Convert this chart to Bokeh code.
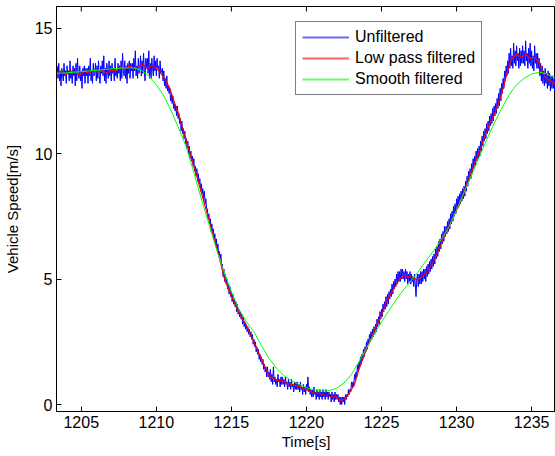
import math
from bokeh.plotting import figure
from bokeh.models import Range1d, FixedTicker, Legend, LegendItem
from bokeh.embed import file_html
from bokeh.resources import INLINE

# ---- data ----
x_ticks = [1205, 1210, 1215, 1220, 1225, 1230, 1235]
y_ticks = [0, 5, 10, 15]

# Unfiltered signal: sampled every 0.05 s starting at 1203.4 s (one row per second)
raw_t0 = 1203.4
raw_dt = 0.05
raw_rows = [
    [13.5, 13.0, 13.6, 12.9, 13.3, 12.7, 13.4, 13.2, 12.9, 13.6, 13.1, 13.3, 12.8, 13.5, 13.2, 13.3, 12.9, 13.7, 13.0, 13.2],
    [12.8, 13.5, 13.1, 13.4, 12.7, 13.6, 12.9, 13.8, 13.2, 13.0, 13.5, 12.9, 13.3, 12.6, 13.4, 13.1, 13.5, 12.8, 13.4, 13.1],
    [13.4, 12.8, 13.5, 13.1, 13.8, 12.9, 13.3, 12.8, 13.6, 13.1, 13.2, 13.6, 12.9, 13.5, 13.0, 13.7, 13.1, 12.8, 13.5, 13.2],
    [13.7, 13.1, 13.9, 12.9, 13.4, 12.8, 13.6, 13.3, 13.0, 13.7, 13.1, 13.5, 12.9, 13.6, 13.2, 13.4, 12.9, 13.8, 13.1, 13.3],
    [13.0, 13.6, 13.2, 13.5, 12.9, 13.7, 13.0, 14.0, 13.3, 13.1, 13.7, 13.0, 13.5, 12.8, 13.6, 13.2, 13.7, 13.0, 13.6, 13.3],
    [13.6, 13.0, 13.8, 13.3, 14.1, 13.1, 13.5, 13.0, 13.8, 13.2, 13.4, 13.9, 13.1, 13.7, 13.2, 14.0, 13.3, 12.9, 13.8, 13.4],
    [13.8, 13.2, 14.1, 13.0, 13.6, 13.0, 13.8, 13.4, 13.1, 13.9, 13.3, 13.7, 13.1, 13.8, 13.4, 13.5, 13.0, 13.7, 13.2, 13.3],
    [13.4, 12.9, 13.3, 12.7, 13.0, 12.6, 13.1, 12.5, 12.7, 12.4, 12.6, 12.1, 12.4, 12.0, 12.3, 11.8, 12.0, 11.7, 11.9, 11.5],
    [11.9, 11.4, 11.6, 11.2, 11.4, 10.9, 11.3, 10.8, 11.0, 10.6, 10.9, 10.4, 10.6, 10.2, 10.5, 10.0, 10.3, 9.8, 10.1, 9.7],
    [9.9, 9.5, 9.8, 9.3, 9.5, 9.1, 9.4, 8.9, 9.2, 8.8, 9.0, 8.5, 8.8, 8.4, 8.6, 8.2, 8.5, 8.0, 8.2, 7.8],
    [7.8, 7.4, 7.6, 7.2, 7.4, 6.9, 7.2, 6.8, 7.0, 6.6, 6.8, 6.3, 6.6, 6.2, 6.4, 6.0, 6.1, 5.8, 6.0, 5.5],
    [5.6, 5.1, 5.4, 4.9, 5.2, 4.8, 5.0, 4.6, 4.8, 4.4, 4.7, 4.3, 4.5, 4.1, 4.4, 4.0, 4.2, 3.9, 4.1, 3.7],
    [4.0, 3.6, 3.8, 3.5, 3.7, 3.4, 3.6, 3.2, 3.5, 3.1, 3.3, 3.0, 3.2, 2.9, 3.1, 2.8, 3.0, 2.7, 2.9, 2.6],
    [2.8, 2.4, 2.6, 2.3, 2.5, 2.1, 2.3, 2.0, 2.2, 1.8, 2.0, 1.7, 1.9, 1.6, 1.8, 1.4, 1.6, 1.3, 1.5, 1.1],
    [1.5, 1.1, 1.3, 1.0, 1.4, 0.9, 1.2, 0.8, 1.5, 0.9, 1.1, 0.8, 1.0, 0.7, 1.2, 0.9, 1.0, 0.7, 1.1, 0.8],
    [1.1, 0.8, 1.0, 0.7, 1.1, 0.8, 0.9, 0.6, 1.0, 0.7, 0.9, 0.6, 1.0, 0.7, 0.8, 0.5, 0.9, 0.6, 0.9, 0.6],
    [0.9, 0.6, 0.8, 0.5, 0.9, 0.6, 0.7, 0.4, 0.8, 0.5, 0.7, 0.4, 0.8, 0.6, 1.1, 0.5, 0.7, 0.4, 0.6, 0.3],
    [0.6, 0.3, 0.7, 0.4, 0.5, 0.2, 0.6, 0.3, 0.5, 0.2, 0.6, 0.3, 0.5, 0.2, 0.6, 0.3, 0.5, 0.2, 0.6, 0.3],
    [0.5, 0.2, 0.5, 0.3, 0.4, 0.1, 0.5, 0.2, 0.4, 0.1, 0.5, 0.2, 0.4, 0.2, 0.4, 0.1, 0.3, 0.0, 0.3, 0.0],
    [0.3, 0.1, 0.3, 0.0, 0.4, 0.2, 0.4, 0.3, 0.6, 0.4, 0.6, 0.5, 0.9, 0.7, 0.9, 0.7, 1.2, 1.0, 1.3, 1.1],
    [1.6, 1.3, 1.7, 1.5, 1.9, 1.6, 2.0, 1.8, 2.2, 1.9, 2.3, 2.1, 2.5, 2.2, 2.6, 2.4, 2.8, 2.5, 2.9, 2.6],
    [3.0, 2.7, 3.1, 2.8, 3.2, 2.9, 3.4, 3.1, 3.5, 3.2, 3.7, 3.4, 3.8, 3.5, 4.0, 3.7, 4.1, 3.8, 4.3, 3.9],
    [4.4, 4.0, 4.5, 4.2, 4.6, 4.3, 4.8, 4.4, 4.9, 4.6, 5.0, 4.7, 5.2, 4.8, 5.3, 4.9, 5.3, 4.9, 5.4, 5.0],
    [5.4, 5.0, 5.3, 4.9, 5.4, 5.0, 5.3, 4.8, 5.2, 4.9, 5.3, 4.8, 5.2, 4.9, 5.1, 4.7, 5.2, 4.8, 4.3, 5.0],
    [5.2, 4.7, 5.2, 4.8, 5.3, 4.8, 5.3, 4.9, 5.4, 5.0, 5.4, 4.9, 5.5, 5.1, 5.6, 5.2, 5.7, 5.3, 5.8, 5.4],
    [5.9, 5.5, 6.0, 5.6, 6.2, 5.8, 6.3, 5.9, 6.5, 6.1, 6.6, 6.2, 6.8, 6.4, 6.9, 6.5, 7.1, 6.7, 7.1, 6.8],
    [7.3, 6.9, 7.4, 7.0, 7.6, 7.2, 7.7, 7.3, 7.9, 7.5, 8.0, 7.6, 8.2, 7.8, 8.3, 7.9, 8.4, 8.0, 8.5, 8.1],
    [8.6, 8.2, 8.7, 8.3, 8.9, 8.5, 9.1, 8.7, 9.3, 8.9, 9.4, 9.0, 9.6, 9.2, 9.8, 9.4, 9.9, 9.5, 10.1, 9.7],
    [10.2, 9.8, 10.3, 9.9, 10.5, 10.1, 10.7, 10.3, 10.9, 10.5, 11.0, 10.6, 11.2, 10.8, 11.3, 10.9, 11.5, 11.1, 11.6, 11.2],
    [11.8, 11.3, 11.9, 11.5, 12.0, 11.6, 12.2, 11.8, 12.4, 11.9, 12.6, 12.1, 12.8, 12.4, 13.0, 12.6, 13.3, 12.9, 13.5, 13.1],
    [13.7, 13.2, 14.0, 13.4, 14.2, 13.5, 13.9, 13.4, 14.4, 13.6, 14.1, 13.5, 14.3, 13.7, 14.0, 13.4, 14.2, 13.5, 14.1, 13.6],
    [14.3, 13.6, 14.1, 13.5, 14.5, 13.7, 14.0, 13.4, 14.2, 13.6, 14.4, 13.5, 14.1, 13.4, 13.9, 13.3, 14.3, 13.6, 14.0, 13.4],
    [14.0, 13.4, 13.8, 13.1, 13.6, 12.9, 13.5, 12.8, 13.3, 12.7, 13.4, 12.8, 13.2, 12.6, 13.3, 12.7, 13.2, 12.5, 13.1, 12.6],
    [13.1, 12.6, 13.0, 12.5, 12.9],
]

# Low pass filtered
lp_t = [1203.4, 1203.7, 1204.0, 1204.3, 1204.6, 1204.9, 1205.2, 1205.5, 1205.8, 1206.1,
        1206.4, 1206.7, 1207.0, 1207.3, 1207.6, 1207.9, 1208.2, 1208.5, 1208.8, 1209.1,
        1209.4, 1209.7, 1210.0, 1210.3, 1210.6, 1210.9, 1211.2, 1211.5, 1211.8, 1212.1,
        1212.4, 1212.7, 1213.0, 1213.3, 1213.6, 1213.9, 1214.2, 1214.5, 1214.8, 1215.1,
        1215.4, 1215.7, 1216.0, 1216.3, 1216.6, 1216.9, 1217.2, 1217.5, 1217.8, 1218.1,
        1218.4, 1218.7, 1219.0, 1219.3, 1219.6, 1219.9, 1220.2, 1220.5, 1220.8, 1221.1,
        1221.4, 1221.7, 1222.0, 1222.3, 1222.6, 1222.9, 1223.2, 1223.5, 1223.8, 1224.1,
        1224.4, 1224.7, 1225.0, 1225.3, 1225.6, 1225.9, 1226.2, 1226.5, 1226.8, 1227.1,
        1227.4, 1227.7, 1228.0, 1228.3, 1228.6, 1228.9, 1229.2, 1229.5, 1229.8, 1230.1,
        1230.4, 1230.7, 1231.0, 1231.3, 1231.6, 1231.9, 1232.2, 1232.5, 1232.8, 1233.1,
        1233.4, 1233.7, 1234.0, 1234.3, 1234.6, 1234.9, 1235.2, 1235.5, 1235.8, 1236.1,
        1236.4, 1236.6]
lp_v = [13.2, 13.3, 13.15, 13.3, 13.25, 13.1, 13.3, 13.2, 13.35, 13.25,
        13.3, 13.2, 13.35, 13.3, 13.45, 13.35, 13.5, 13.4, 13.45, 13.55,
        13.4, 13.5, 13.4, 13.2, 12.95, 12.6, 12.05, 11.55, 10.9, 10.3,
        9.7, 9.1, 8.45, 7.8, 7.15, 6.5, 5.85, 5.1, 4.6, 4.2,
        3.8, 3.45, 3.15, 2.75, 2.35, 1.95, 1.55, 1.15, 1.05, 0.95,
        0.95, 0.85, 0.8, 0.75, 0.7, 0.6, 0.55, 0.45, 0.45, 0.4,
        0.35, 0.3, 0.3, 0.15, 0.25, 0.5, 0.8, 1.4, 1.9, 2.35,
        2.75, 3.2, 3.55, 4.05, 4.4, 4.7, 5.0, 5.15, 5.1, 5.05,
        4.95, 5.1, 5.25, 5.55, 5.85, 6.3, 6.75, 7.1, 7.5, 7.85,
        8.3, 8.8, 9.3, 9.75, 10.2, 10.75, 11.2, 11.55, 12.0, 12.6,
        13.3, 13.8, 13.95, 13.85, 13.95, 13.8, 13.85, 13.6, 13.15, 12.95,
        12.85, 12.75]

# Smooth filtered
sm_t = [1203.35, 1204.0, 1205.0, 1206.0, 1207.0, 1208.0, 1208.5, 1209.0, 1209.5, 1210.0,
        1210.5, 1211.0, 1211.5, 1212.0, 1212.5, 1213.0, 1213.5, 1214.0, 1214.5, 1215.0,
        1215.5, 1216.0, 1216.5, 1217.0, 1217.5, 1218.0, 1218.5, 1219.0, 1219.5, 1220.0,
        1220.5, 1221.0, 1221.5, 1222.0, 1222.5, 1223.0, 1223.5, 1224.0, 1224.5, 1225.0,
        1225.5, 1226.0, 1226.5, 1227.0, 1227.5, 1228.0, 1228.5, 1229.0, 1229.5, 1230.0,
        1230.5, 1231.0, 1231.5, 1232.0, 1232.5, 1233.0, 1233.5, 1234.0, 1234.5, 1235.0,
        1235.5, 1236.0, 1236.6]
sm_v = [13.2, 13.22, 13.27, 13.32, 13.38, 13.42, 13.42, 13.32, 13.1, 12.75,
        12.3, 11.7, 11.0, 10.25, 9.25, 8.2, 7.2, 6.2, 5.3, 4.5,
        3.8, 3.3, 2.9, 2.35, 1.85, 1.45, 1.15, 0.95, 0.8, 0.67,
        0.58, 0.53, 0.55, 0.65, 0.85, 1.2, 1.7, 2.25, 2.8, 3.3,
        3.75, 4.2, 4.6, 4.95, 5.35, 5.75, 6.15, 6.6, 7.1, 7.75,
        8.45, 9.15, 9.85, 10.55, 11.2, 11.8, 12.35, 12.75, 13.0, 13.17,
        13.25, 13.18, 13.0]

raw_v = [v for row in raw_rows for v in row]
raw_t = [raw_t0 + raw_dt * i for i in range(len(raw_v))]

FONT = "Liberation Sans"
X0, X1 = 1203.35, 1236.59
Y0, Y1 = -0.279, 15.865

p = figure(width=555, height=456, output_backend="svg", toolbar_location=None,
           x_range=Range1d(X0, X1), y_range=Range1d(Y0, Y1),
           min_border_left=52, min_border_right=0, min_border_top=6, min_border_bottom=45)
p.grid.visible = False
p.outline_line_color = "black"
p.outline_line_width = 1
p.background_fill_color = "white"
p.border_fill_color = "white"

p.line(raw_t, raw_v, line_color="#0000ff", line_width=1)
p.line(lp_t, lp_v, line_color="#ff0000", line_width=1.2)
p.line(sm_t, sm_v, line_color="#00ff00", line_width=1)

# inward ticks along the top edge of the box
p.ray(x=x_ticks, y=[Y1] * len(x_ticks), length=5, angle=-math.pi / 2,
      length_units="screen", line_color="black", line_width=1)

# legend sample lines (a single point each, so nothing is drawn in the plot)
k_raw = p.line(raw_t[:1], raw_v[:1], line_color="#0000ff", line_width=2, line_alpha=0.6)
k_lp = p.line(lp_t[:1], lp_v[:1], line_color="#ff0000", line_width=2, line_alpha=0.6)
k_sm = p.line(sm_t[:1], sm_v[:1], line_color="#00ff00", line_width=2, line_alpha=0.6)

xa = p.xaxis[0]
ya = p.yaxis[0]
xa.ticker = FixedTicker(ticks=x_ticks)
ya.ticker = FixedTicker(ticks=y_ticks)
for ax in (xa, ya):
    ax.major_tick_in = 5
    ax.major_tick_out = 0
    ax.minor_tick_line_color = None
    ax.axis_line_color = "black"
    ax.major_tick_line_color = "black"
    ax.major_label_text_font = FONT
    ax.major_label_text_font_size = "16px"
    ax.major_label_text_color = "black"
    ax.axis_label_text_font = FONT
    ax.axis_label_text_font_size = "15px"
    ax.axis_label_text_font_style = "normal"
    ax.axis_label_text_color = "black"
xa.axis_label = "Time[s]"
ya.axis_label = "Vehicle Speed[m/s]"
xa.major_label_standoff = 4
xa.axis_label_standoff = 2
ya.major_label_standoff = 4
ya.axis_label_standoff = 11

legend = Legend(items=[LegendItem(label="Unfiltered", renderers=[k_raw]),
                       LegendItem(label="Low pass filtered", renderers=[k_lp]),
                       LegendItem(label="Smooth filtered", renderers=[k_sm])],
                location=(239, 316), orientation="vertical")
legend.label_text_font = FONT
legend.label_text_font_size = "16px"
legend.label_text_color = "black"
legend.glyph_width = 47
legend.glyph_height = 18
legend.label_height = 18
legend.label_standoff = 6
legend.spacing = 3
legend.padding = 6
legend.margin = 0
legend.border_line_color = "black"
legend.border_line_width = 1
legend.background_fill_color = "white"
legend.background_fill_alpha = 1
p.add_layout(legend)

open("out.html", "w").write(file_html(p, INLINE))
